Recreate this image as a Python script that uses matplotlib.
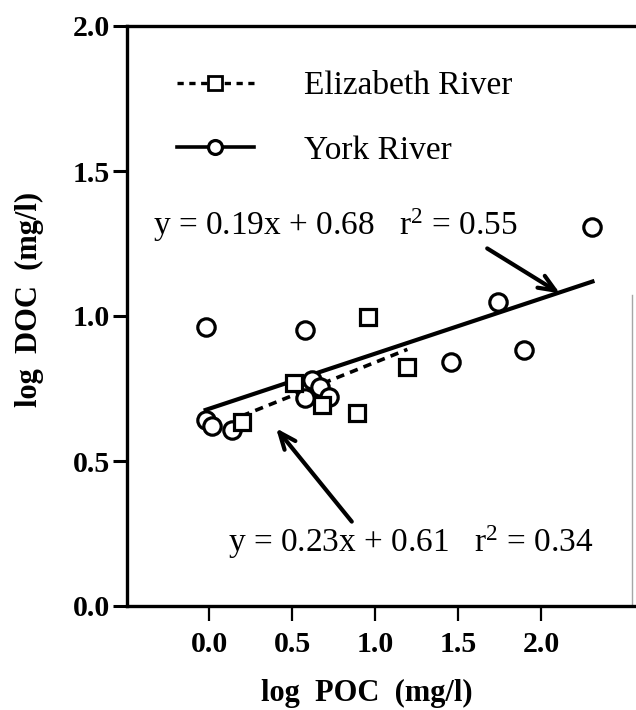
import numpy as np
import matplotlib
matplotlib.use("Agg")
import matplotlib.pyplot as plt

plt.rcParams['font.family'] = ['Liberation Serif', 'DejaVu Serif']
plt.rcParams['mathtext.fontset'] = 'custom'
plt.rcParams['mathtext.rm'] = 'Liberation Serif'
plt.rcParams['mathtext.it'] = 'Liberation Serif:italic'
plt.rcParams['lines.scale_dashes'] = False

# log POC / log DOC (mg/l)
york_x = [-0.02, 0.58, 1.74, 1.46, 1.90, 2.31, -0.02, 0.02, 0.14, 0.58, 0.62, 0.67, 0.72]
york_y = [0.963, 0.952, 1.048, 0.841, 0.883, 1.306, 0.641, 0.622, 0.607, 0.717, 0.780, 0.756, 0.722]
eliz_x = [0.51, 0.96, 1.195, 0.68, 0.894, 0.197]
eliz_y = [0.768, 0.998, 0.825, 0.693, 0.664, 0.636]

# regression fits (slope, intercept, r2)
york_fit = [0.19, 0.68, 0.55]
eliz_fit = [0.23, 0.61, 0.34]

xticks = [0.0, 0.5, 1.0, 1.5, 2.0]
yticks = [0.0, 0.5, 1.0, 1.5, 2.0]

fig = plt.figure(figsize=(6.36, 7.10), dpi=100)
ax = fig.add_axes([127/636, 1-606/710, 513.6/636, 580/710])
ax.set_xlim(-0.494, 2.6)
ax.set_ylim(0, 2.0)

# fit lines
xe = np.array([min(eliz_x), max(eliz_x)])
ax.plot(xe, eliz_fit[0]*xe + eliz_fit[1], color='k', lw=2.6,
        linestyle=(0, (6, 4.5)), zorder=2)
xy = np.array([min(york_x), max(york_x)])
ax.plot(xy, york_fit[0]*xy + york_fit[1], color='k', lw=3.0, zorder=2)

# points
ax.plot(york_x, york_y, 'o', ms=12.5, mfc='white', mec='k', mew=2.3, zorder=3)
ax.plot(eliz_x, eliz_y, 's', ms=11, mfc='white', mec='k', mew=2.3, zorder=4)

# legend handles
h1, = ax.plot([], [], color='k', lw=2.4, linestyle=(0, (4.5, 4)),
              marker='s', ms=10, mfc='white', mec='k', mew=2.0)
h2, = ax.plot([], [], color='k', lw=2.6, marker='o', ms=10,
              mfc='white', mec='k', mew=2.3)
ax.legend([h1, h2], ['Elizabeth River', 'York River'], loc='upper left',
          bbox_to_anchor=(-0.193, 1.845), bbox_transform=ax.transData,
          frameon=False, fontsize=24, handlelength=2.3, handletextpad=1.5,
          labelspacing=1.02, borderpad=0, borderaxespad=0)

# equations
ax.text(-0.337, 1.279, 'y = %.2fx + %.2f   r$^2$ = %.2f' % tuple(york_fit),
        fontsize=24, ha='left', va='baseline')
ax.text(0.114, 0.186, 'y = %.2fx + %.2f   r$^2$ = %.2f' % tuple(eliz_fit),
        fontsize=24, ha='left', va='baseline')

arrow = dict(arrowstyle='->,head_length=1.2,head_width=0.5', lw=3.0,
             color='k', shrinkA=0, shrinkB=0)
ax.annotate('', xy=(2.114, 1.078), xytext=(1.676, 1.233), arrowprops=arrow,
            annotation_clip=False)
ax.annotate('', xy=(0.404, 0.613), xytext=(0.86, 0.291), arrowprops=arrow,
            annotation_clip=False)

# axes styling
for s in ['left', 'bottom', 'top']:
    ax.spines[s].set_linewidth(2.4)
ax.spines['right'].set_visible(False)
ax.axvline(2.55, ymin=0, ymax=0.536, color='0.65', lw=1.0)

ax.set_xticks(xticks)
ax.set_xticklabels(['%.1f' % v for v in xticks])
ax.set_yticks(yticks)
ax.set_yticklabels(['%.1f' % v for v in yticks])
ax.tick_params(axis='y', direction='out', length=10, width=2.2, pad=2,
               labelsize=21.5)
ax.tick_params(axis='x', direction='out', length=11, width=1.6, pad=7,
               labelsize=21.5)
for lab in ax.get_xticklabels() + ax.get_yticklabels():
    lab.set_fontweight('bold')

ax.set_xlabel('log  POC  (mg/l)', fontsize=22, fontweight='bold')
ax.xaxis.set_label_coords(0.467, -0.126)
ax.set_ylabel('log  DOC  (mg/l)', fontsize=22, fontweight='bold')
ax.yaxis.set_label_coords(-0.162, 0.528)

fig.savefig('out.png', dpi=100)
